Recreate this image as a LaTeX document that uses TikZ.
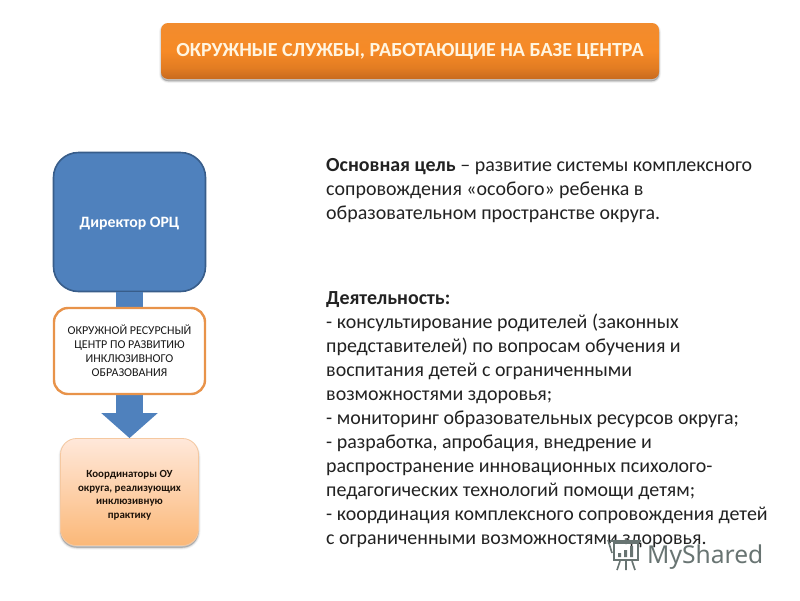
\documentclass[tikz,border=0pt]{standalone}
\usepackage{fontspec}
\setmainfont{Carlito}
\newfontfamily\logofont{Noto Sans}
\usetikzlibrary{arrows.meta,shadows,backgrounds}
\definecolor{blueF}{HTML}{4F81BD}
\definecolor{blueD}{HTML}{385D8A}
\definecolor{orangeB}{HTML}{E8934A}
\definecolor{bodyT}{HTML}{222222}
\definecolor{logoG}{HTML}{687472}
\definecolor{titleA}{RGB}{200,106,30}
\definecolor{titleB}{RGB}{226,124,34}
\definecolor{titleC}{RGB}{246,138,38}
\definecolor{titleD}{RGB}{242,140,46}
\pgfdeclareverticalshading{titlegrad}{100bp}{
  color(0bp)=(titleA);
  color(25bp)=(titleA);
  color(35bp)=(titleB);
  color(50bp)=(titleC);
  color(75bp)=(titleD);
  color(100bp)=(titleD)}
\tikzset{
  softshadow/.style={
    general shadow={draw=black,fill=black,line width=4pt,draw opacity=.04,fill opacity=.04,shadow yshift=-2pt},
    general shadow={draw=black,fill=black,line width=2.5pt,draw opacity=.06,fill opacity=.06,shadow yshift=-2pt},
    general shadow={draw=black,fill=black,line width=1pt,draw opacity=.10,fill opacity=.10,shadow yshift=-2pt}},
  titlebox/.style={rectangle,rounded corners=7pt,minimum width=498pt,minimum height=56pt,inner sep=0pt,
    softshadow,draw=none,shading=titlegrad,
    text={rgb,255:red,255;green,245;blue,225},font=\bfseries\fontsize{20}{24}\selectfont},
  dirbox/.style={rectangle,rounded corners=25pt,minimum width=152pt,minimum height=139pt,inner sep=0pt,
    fill=blueF,draw=blueD,line width=1.6pt,text=white,font=\bfseries\fontsize{15.8}{18}\selectfont},
  centerbox/.style={rectangle,rounded corners=14pt,minimum width=151pt,minimum height=86pt,inner sep=0pt,
    fill=white,draw=orangeB,line width=2.4pt,align=center,text=black!90,font=\fontsize{12}{14}\selectfont},
  coordbox/.style={rectangle,rounded corners=16pt,minimum width=138pt,minimum height=107pt,inner sep=0pt,
    draw={rgb,255:red,245;green,200;blue,160},line width=.8pt,softshadow,
    top color={rgb,255:red,255;green,232;blue,218},middle color={rgb,255:red,255;green,208;blue,170},bottom color={rgb,255:red,251;green,184;blue,120},
    align=center,text=black!85!brown,font=\bfseries\fontsize{10.9}{13.5}\selectfont},
  fatarrow/.style={line width=27pt,draw=blueF,-{Triangle[length=25pt,width=55pt]}},
  bodytext/.style={anchor=north west,inner sep=0pt,align=left,text=bodyT,font=\fontsize{19.95}{24}\selectfont},
  logotext/.style={anchor=base west,inner sep=0pt,text=logoG,font=\logofont\fontsize{24.6}{28}\selectfont},
  logoline/.style={draw=logoG,line width=1.6pt}
}
\begin{document}
\begin{tikzpicture}[x=1pt,y=-1pt]
\useasboundingbox (0,0) rectangle (800,600);
\fill[white] (0,0) rectangle (800,600);
\node[titlebox] (title) at (410,51) {ОКРУЖНЫЕ СЛУЖБЫ, РАБОТАЮЩИЕ НА БАЗЕ ЦЕНТРА};
\node[dirbox] (dir) at (129.5,222) {\smash{\raisebox{-5.5pt}{Директор ОРЦ}}};
\node[coordbox] (coord) at (129.5,492) {\rule{0pt}{14pt}Координаторы  ОУ\\округа,  реализующих\\инклюзивную\\практику};
\draw[fatarrow] (dir.south) -- (coord.north);
\node[centerbox] (center) at (129.5,351) {ОКРУЖНОЙ РЕСУРСНЫЙ\\ЦЕНТР ПО РАЗВИТИЮ\\ИНКЛЮЗИВНОГО\\ОБРАЗОВАНИЯ};
\node[bodytext] (goal) at (326,158) {\textbf{Основная цель} – развитие системы комплексного\\сопровождения «особого» ребенка в\\образовательном пространстве округа.};
\node[bodytext] (work) at (326,291) {\textbf{Деятельность:}\\- консультирование родителей (законных\\представителей) по вопросам обучения и\\воспитания детей с ограниченными\\возможностями здоровья;\\- мониторинг образовательных ресурсов округа;\\- разработка, апробация, внедрение и\\распространение инновационных психолого-\\педагогических технологий помощи детям;\\- координация комплексного сопровождения детей\\с ограниченными возможностями здоровья.};
% watermark
\node[logotext] (logo) at (647,563.5) {MyShared};
\draw[logoline] (614,543) rectangle (638,560);
\draw[logoline] (610,541) -- (641,541);
\draw[logoline] (608,540) -- (612,553);
\fill[logoG] (618,553) rectangle (621,557) (624,550) rectangle (627,557) (630,546) rectangle (633,557);
\draw[logoline] (620,561) -- (617,570) (626,561) -- (626,570) (632,561) -- (635,570);
\end{tikzpicture}
\end{document}
